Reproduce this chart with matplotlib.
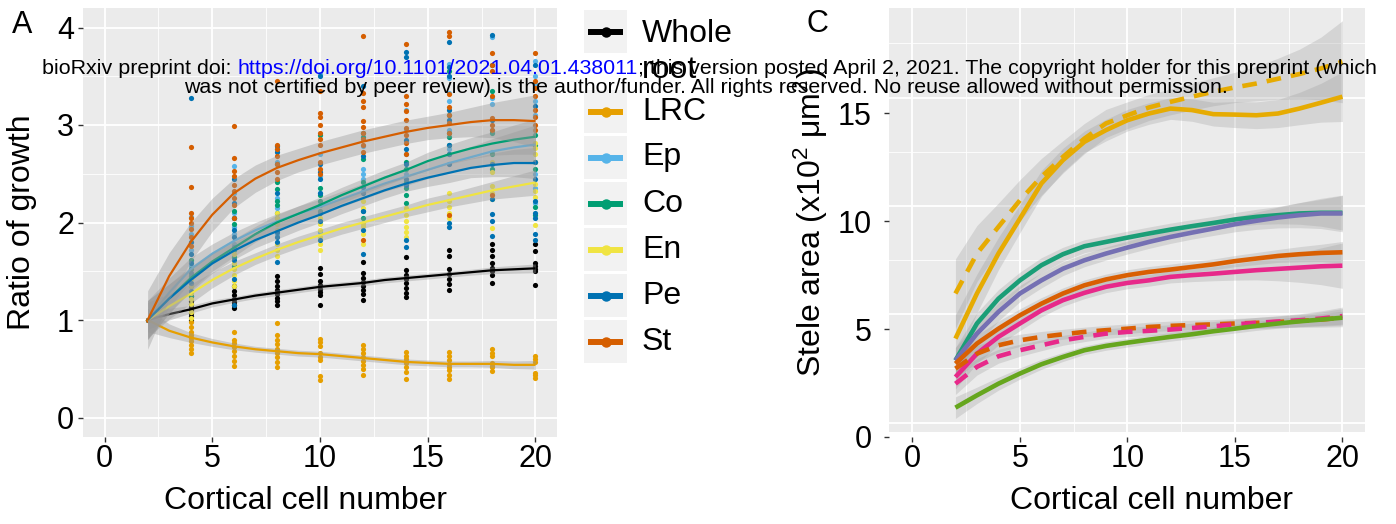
import numpy as np
import matplotlib
matplotlib.use("Agg")
import matplotlib.pyplot as plt
from matplotlib.patches import Rectangle
from matplotlib.lines import Line2D
from matplotlib.ticker import MultipleLocator

plt.rcParams['font.family'] = ['Liberation Sans', 'DejaVu Sans']
plt.rcParams['mathtext.fontset'] = 'custom'
plt.rcParams['mathtext.rm'] = 'Liberation Sans'
plt.rcParams['mathtext.it'] = 'Liberation Sans:italic'

# ---------------- Panel A data: ratio of growth ----------------
cell_x = list(range(2, 21))            # x for the smoothed curves
pt_x = [4, 6, 8, 10, 12, 14, 16, 18, 20]  # x for the measured points

tissues = ['Whole\nroot', 'LRC', 'Ep', 'Co', 'En', 'Pe', 'St']
tissue_colors = ['#000000', '#E69F00', '#56B4E9', '#009E73', '#F0E442', '#0072B2', '#D55E00']

whole_fit = [1.0, 1.06, 1.11, 1.17, 1.21, 1.25, 1.28, 1.31, 1.34, 1.36, 1.38, 1.41, 1.43, 1.45, 1.47, 1.49, 1.51, 1.52, 1.53]
lrc_fit = [1.0, 0.89, 0.82, 0.77, 0.73, 0.70, 0.68, 0.66, 0.65, 0.63, 0.61, 0.59, 0.57, 0.56, 0.55, 0.55, 0.55, 0.54, 0.54]
ep_fit = [1.0, 1.28, 1.52, 1.68, 1.81, 1.92, 2.01, 2.09, 2.16, 2.24, 2.32, 2.40, 2.47, 2.54, 2.61, 2.67, 2.73, 2.77, 2.80]
co_fit = [1.0, 1.22, 1.43, 1.60, 1.74, 1.88, 2.00, 2.09, 2.18, 2.28, 2.37, 2.46, 2.54, 2.63, 2.70, 2.76, 2.81, 2.85, 2.88]
en_fit = [1.0, 1.14, 1.27, 1.41, 1.53, 1.63, 1.72, 1.80, 1.87, 1.94, 2.00, 2.06, 2.12, 2.18, 2.23, 2.28, 2.33, 2.37, 2.41]
pe_fit = [1.0, 1.22, 1.41, 1.58, 1.71, 1.82, 1.91, 2.00, 2.08, 2.17, 2.25, 2.33, 2.40, 2.46, 2.51, 2.56, 2.59, 2.61, 2.61]
st_fit = [1.0, 1.45, 1.80, 2.08, 2.30, 2.45, 2.56, 2.64, 2.71, 2.77, 2.83, 2.88, 2.93, 2.97, 3.00, 3.03, 3.05, 3.05, 3.04]

whole_se = [0.10, 0.06, 0.04, 0.035, 0.03, 0.03, 0.03, 0.03, 0.03, 0.03, 0.03, 0.03, 0.03, 0.03, 0.03, 0.03, 0.035, 0.04, 0.045]
lrc_se = [0.12, 0.07, 0.05, 0.04, 0.035, 0.03, 0.03, 0.03, 0.03, 0.03, 0.03, 0.03, 0.03, 0.03, 0.03, 0.03, 0.035, 0.04, 0.045]
ep_se = [0.20, 0.15, 0.12, 0.10, 0.09, 0.08, 0.08, 0.08, 0.08, 0.08, 0.08, 0.08, 0.09, 0.09, 0.10, 0.11, 0.13, 0.16, 0.20]
co_se = [0.20, 0.15, 0.12, 0.10, 0.09, 0.08, 0.08, 0.08, 0.08, 0.08, 0.08, 0.08, 0.08, 0.09, 0.10, 0.11, 0.12, 0.15, 0.18]
en_se = [0.18, 0.13, 0.10, 0.08, 0.07, 0.06, 0.06, 0.06, 0.06, 0.06, 0.06, 0.06, 0.06, 0.07, 0.07, 0.08, 0.09, 0.11, 0.13]
pe_se = [0.20, 0.15, 0.12, 0.10, 0.09, 0.08, 0.08, 0.08, 0.08, 0.08, 0.08, 0.08, 0.08, 0.09, 0.10, 0.10, 0.12, 0.14, 0.16]
st_se = [0.30, 0.24, 0.20, 0.17, 0.15, 0.14, 0.13, 0.12, 0.12, 0.12, 0.12, 0.12, 0.12, 0.12, 0.13, 0.15, 0.18, 0.22, 0.27]

whole_pts = [[1.25, 1.20, 1.16, 1.13, 1.10, 1.07, 1.04, 1.00],
             [1.35, 1.30, 1.26, 1.22, 1.18, 1.15, 1.12],
             [1.45, 1.40, 1.35, 1.31, 1.27, 1.23, 1.19, 1.15],
             [1.53, 1.47, 1.40, 1.36, 1.32, 1.29, 1.26, 1.15],
             [1.60, 1.48, 1.43, 1.39, 1.35, 1.31, 1.27, 1.21],
             [1.65, 1.51, 1.46, 1.42, 1.38, 1.33, 1.28, 1.24],
             [1.72, 1.66, 1.52, 1.47, 1.42, 1.37, 1.31],
             [1.78, 1.72, 1.66, 1.58, 1.53, 1.50, 1.46, 1.38],
             [1.78, 1.71, 1.58, 1.55, 1.52, 1.50, 1.36]]
lrc_pts = [[0.98, 0.93, 0.88, 0.85, 0.82, 0.78, 0.74, 0.70, 0.66],
           [0.88, 0.80, 0.76, 0.72, 0.68, 0.63, 0.58, 0.53],
           [0.97, 0.85, 0.80, 0.75, 0.70, 0.66, 0.62, 0.57, 0.52],
           [0.81, 0.77, 0.73, 0.66, 0.62, 0.59, 0.43, 0.38],
           [0.74, 0.70, 0.66, 0.62, 0.58, 0.54, 0.50, 0.44],
           [0.67, 0.63, 0.60, 0.56, 0.52, 0.47, 0.40],
           [0.67, 0.63, 0.59, 0.55, 0.52, 0.49, 0.44, 0.40],
           [0.70, 0.66, 0.63, 0.56, 0.53, 0.52, 0.48],
           [0.63, 0.60, 0.57, 0.46, 0.44, 0.41]]
ep_pts = [[2.06, 1.96, 1.88, 1.72, 1.55, 1.45],
          [2.58, 2.30, 2.10, 1.95, 1.88, 1.78],
          [2.75, 2.62, 2.25, 2.15, 2.05, 1.88],
          [3.52, 2.70, 2.48, 2.30, 2.00, 1.90],
          [2.78, 2.55, 2.50, 2.45, 2.32],
          [3.15, 2.95, 2.70, 2.50, 2.40],
          [3.63, 3.48, 3.33, 3.25, 2.95, 2.75],
          [3.90, 3.28, 3.22, 2.95, 2.72],
          [3.66, 3.50, 3.42, 3.25, 3.10, 2.50, 2.35, 2.20]]
co_pts = [[1.62, 1.52, 1.45, 1.35, 1.25],
          [2.12, 2.05, 1.98, 1.72, 1.65, 1.55],
          [2.60, 2.42, 2.34, 2.22, 2.18, 2.10],
          [2.90, 2.35, 2.28, 2.22, 2.18, 2.12],
          [2.92, 2.88, 2.65, 2.42, 2.12, 2.05],
          [2.62, 2.55, 2.42, 2.35, 2.28, 2.20],
          [3.55, 3.10, 2.92, 2.88, 2.80, 2.70],
          [3.35, 2.92, 2.70, 2.55],
          [2.90, 2.80, 2.62, 2.55, 2.16, 2.08]]
en_pts = [[1.42, 1.35, 1.28, 1.22, 1.16, 1.08, 1.02],
          [1.68, 1.58, 1.52, 1.46, 1.40, 1.35],
          [2.10, 2.05, 1.98, 1.92, 1.78, 1.72, 1.66],
          [2.05, 1.98, 1.92, 1.85, 1.78, 1.72],
          [2.22, 2.15, 2.00, 1.96, 1.88, 1.78],
          [2.15, 2.08, 2.02, 1.95, 1.90, 1.85],
          [2.30, 2.22, 2.16, 2.10, 2.05],
          [2.62, 2.52, 2.37, 2.30, 2.24, 1.94],
          [2.82, 2.76, 2.70, 2.62, 2.40, 2.32, 2.26, 1.97]]
pe_pts = [[3.28, 1.80, 1.68, 1.58, 1.48, 1.38, 1.30],
          [2.45, 2.20, 2.05, 1.92, 1.85, 1.75, 1.62, 1.42, 1.15],
          [2.78, 2.72, 2.30, 1.90, 1.85, 1.80, 1.60],
          [3.50, 2.60, 2.52, 2.45, 2.30, 2.10, 2.02, 1.82],
          [3.40, 2.68, 2.36, 2.30, 2.12, 1.92, 1.68],
          [3.75, 3.70, 2.85, 2.75, 2.60, 2.45, 2.38, 1.82, 1.75],
          [3.85, 3.60, 3.50, 3.15, 3.05, 2.80, 2.70, 2.60, 2.00, 1.95],
          [3.92, 3.62, 3.05, 2.60, 2.24, 2.09, 2.02, 1.86],
          [3.62, 3.20, 2.62, 2.45, 2.22, 2.10, 2.05, 1.88, 1.82]]
st_pts = [[2.77, 2.36, 2.10, 2.05, 2.00, 1.93, 1.85, 1.76],
          [2.99, 2.66, 2.53, 2.48, 2.38, 2.32, 2.25, 2.18, 2.05],
          [3.45, 2.80, 2.75, 2.68, 2.60, 2.52, 2.45],
          [3.35, 3.12, 3.08, 3.00, 2.92, 2.86, 2.80, 2.62, 2.55, 2.50],
          [3.91, 3.33, 3.25, 3.18, 3.04, 2.98, 2.92, 2.86, 2.80, 2.72, 1.82],
          [3.83, 3.30, 3.22, 3.14, 3.05, 2.97, 2.90, 2.82, 2.70],
          [3.95, 3.91, 3.32, 3.18, 3.10, 3.02, 2.92, 2.08],
          [3.74, 3.62, 3.55, 3.30, 3.07, 3.00, 2.95, 2.28],
          [3.74, 3.45, 3.38, 3.30, 3.15, 3.08, 3.00, 2.95]]

fits_a = [whole_fit, lrc_fit, ep_fit, co_fit, en_fit, pe_fit, st_fit]
ses_a = [whole_se, lrc_se, ep_se, co_se, en_se, pe_se, st_se]
pts_a = [whole_pts, lrc_pts, ep_pts, co_pts, en_pts, pe_pts, st_pts]

# ---------------- Panel C data: stele area (x10^2 um^2) ----------------
area_x = list(range(2, 21))
yel_dash = [6.65, 8.5, 9.74, 10.97, 12.06, 12.98, 13.83, 14.53, 14.91, 15.27, 15.53, 15.77, 16.0, 16.2, 16.38, 16.6, 16.82, 17.08, 17.39]
yel_solid = [4.56, 6.65, 8.5, 10.12, 11.75, 12.83, 13.68, 14.22, 14.68, 14.99, 15.22, 15.15, 14.96, 14.94, 14.91, 14.99, 15.22, 15.49, 15.77]
teal_solid = [3.55, 5.26, 6.41, 7.26, 7.96, 8.47, 8.84, 9.04, 9.24, 9.43, 9.61, 9.77, 9.92, 10.08, 10.2, 10.28, 10.36, 10.39, 10.39]
purple_solid = [3.55, 4.79, 5.8, 6.65, 7.26, 7.8, 8.19, 8.5, 8.78, 9.04, 9.27, 9.47, 9.66, 9.86, 10.02, 10.17, 10.28, 10.36, 10.36]
orange_solid = [3.4, 4.33, 5.02, 5.64, 6.18, 6.65, 7.03, 7.3, 7.5, 7.65, 7.76, 7.88, 8.0, 8.15, 8.27, 8.39, 8.47, 8.53, 8.56]
pink_solid = [2.78, 3.86, 4.64, 5.26, 5.87, 6.34, 6.68, 6.96, 7.14, 7.26, 7.42, 7.5, 7.57, 7.65, 7.73, 7.79, 7.85, 7.91, 7.94]
orange_dash = [3.17, 3.86, 4.25, 4.48, 4.64, 4.76, 4.87, 4.95, 5.02, 5.1, 5.15, 5.19, 5.22, 5.26, 5.29, 5.33, 5.38, 5.44, 5.53]
pink_dash = [2.47, 3.25, 3.74, 4.02, 4.25, 4.48, 4.64, 4.79, 4.87, 4.92, 4.98, 5.05, 5.13, 5.22, 5.29, 5.35, 5.41, 5.49, 5.6]
green_solid = [1.36, 1.93, 2.47, 2.94, 3.37, 3.71, 4.02, 4.22, 4.37, 4.51, 4.64, 4.76, 4.9, 5.02, 5.15, 5.26, 5.36, 5.44, 5.53]

yel_dash_se = [1.6, 1.3, 1.1, 0.95, 0.85, 0.75, 0.7, 0.65, 0.62, 0.6, 0.6, 0.62, 0.65, 0.7, 0.8, 0.95, 1.15, 1.45, 1.9]
yel_solid_se = [1.1, 0.9, 0.75, 0.65, 0.6, 0.55, 0.5, 0.5, 0.5, 0.5, 0.5, 0.52, 0.55, 0.6, 0.62, 0.65, 0.75, 0.9, 1.15]
teal_solid_se = [0.6, 0.5, 0.42, 0.38, 0.35, 0.32, 0.3, 0.3, 0.3, 0.3, 0.3, 0.3, 0.3, 0.32, 0.35, 0.4, 0.5, 0.62, 0.8]
purple_solid_se = [0.6, 0.5, 0.42, 0.38, 0.35, 0.32, 0.3, 0.3, 0.3, 0.3, 0.3, 0.3, 0.32, 0.35, 0.4, 0.48, 0.58, 0.7, 0.85]
orange_solid_se = [0.5, 0.4, 0.35, 0.3, 0.28, 0.26, 0.25, 0.25, 0.25, 0.25, 0.25, 0.25, 0.25, 0.26, 0.28, 0.3, 0.35, 0.4, 0.5]
pink_solid_se = [0.55, 0.45, 0.38, 0.33, 0.3, 0.28, 0.27, 0.27, 0.27, 0.27, 0.28, 0.3, 0.33, 0.38, 0.45, 0.55, 0.68, 0.85, 1.05]
orange_dash_se = [0.5, 0.38, 0.32, 0.28, 0.25, 0.23, 0.22, 0.22, 0.22, 0.22, 0.22, 0.22, 0.22, 0.23, 0.25, 0.27, 0.3, 0.35, 0.42]
pink_dash_se = [0.5, 0.38, 0.32, 0.28, 0.25, 0.23, 0.22, 0.22, 0.22, 0.22, 0.22, 0.22, 0.22, 0.23, 0.25, 0.27, 0.3, 0.35, 0.42]
green_solid_se = [0.5, 0.38, 0.3, 0.26, 0.23, 0.21, 0.2, 0.2, 0.2, 0.2, 0.2, 0.2, 0.2, 0.2, 0.21, 0.22, 0.24, 0.27, 0.3]

curves_c = [
    (yel_dash, yel_dash_se, '#E6AB02', 'dashed'),
    (yel_solid, yel_solid_se, '#E6AB02', 'solid'),
    (teal_solid, teal_solid_se, '#1B9E77', 'solid'),
    (purple_solid, purple_solid_se, '#7570B3', 'solid'),
    (orange_solid, orange_solid_se, '#D95F02', 'solid'),
    (pink_solid, pink_solid_se, '#E7298A', 'solid'),
    (orange_dash, orange_dash_se, '#D95F02', 'dashed'),
    (pink_dash, pink_dash_se, '#E7298A', 'dashed'),
    (green_solid, green_solid_se, '#66A61E', 'solid'),
]

# ---------------- figure & helpers ----------------
W, H = 1396, 524
fig = plt.figure(figsize=(W / 100, H / 100), dpi=100)


def rect_px(x0, y0, x1, y1):
    """Pixel box (origin top-left) to a figure-fraction rectangle."""
    return [x0 / W, 1 - y1 / H, (x1 - x0) / W, (y1 - y0) / H]


# overlay axes in pixel units for legend, labels and header text
ov = fig.add_axes([0, 0, 1, 1])
ov.set_xlim(0, W)
ov.set_ylim(H, 0)
ov.axis('off')
ov.set_zorder(10)

PANEL_BG = '#EBEBEB'
RIBBON = '#999999'


def style_grid(ax, ymajor, yminor, xmajor=5, xminor=2.5):
    ax.set_facecolor(PANEL_BG)
    for s in ax.spines.values():
        s.set_visible(False)
    ax.xaxis.set_major_locator(MultipleLocator(xmajor))
    ax.xaxis.set_minor_locator(MultipleLocator(xminor))
    ax.yaxis.set_major_locator(MultipleLocator(ymajor))
    ax.yaxis.set_minor_locator(MultipleLocator(yminor))
    ax.grid(which='major', color='white', lw=1.3)
    ax.grid(which='minor', color='white', lw=0.6)
    ax.set_axisbelow(True)


def style_ticks(ax, ypad):
    ax.tick_params(which='minor', length=0)
    ax.tick_params(axis='both', which='major', length=3.5, width=1.0, color='#333333',
                   labelsize=22, labelcolor='black')
    ax.tick_params(axis='x', pad=1.5)
    ax.tick_params(axis='y', pad=ypad)


# ---------------- Panel A ----------------
axA = fig.add_axes(rect_px(83, 8, 557, 437))
style_grid(axA, 1, 0.5)
style_ticks(axA, 3)
axA.set_xlim(-1, 21)
axA.set_ylim(-0.2, 4.2)

for pts, col in zip(pts_a, tissue_colors):
    xs = [2.0]
    ys = [1.0]
    for xv, col_vals in zip(pt_x, pts):
        xs += [xv] * len(col_vals)
        ys += col_vals
    axA.scatter(xs, ys, s=14, color=col, lw=0, zorder=2)

for fit, se, col in zip(fits_a, ses_a, tissue_colors):
    f = np.array(fit)
    e = np.array(se)
    axA.fill_between(cell_x, f - e, f + e, color=RIBBON, alpha=0.4, lw=0, zorder=3)
    axA.plot(cell_x, f, color=col, lw=1.6, zorder=3, solid_capstyle='butt')

axA.set_xlabel('Cortical cell number', fontsize=23)
axA.xaxis.set_label_coords(305, 486, transform=ov.transData)
axA.set_ylabel('Ratio of growth', fontsize=23)
axA.yaxis.set_label_coords(37, 222.5, transform=ov.transData)

# ---------------- Panel C ----------------
C_XLIM = (-1.09, 21.05)
axCbg = fig.add_axes(rect_px(889, 8, 1365, 432))
style_grid(axCbg, 5, 2.5)
axCbg.set_xlim(*C_XLIM)
axCbg.set_ylim(-0.43, 19.13)
axCbg.tick_params(which='both', length=0, labelleft=False, labelbottom=False)

axC = fig.add_axes(rect_px(889, 8, 1365, 437))
axC.patch.set_visible(False)
for s in axC.spines.values():
    s.set_visible(False)
axC.xaxis.set_major_locator(MultipleLocator(5))
axC.yaxis.set_major_locator(MultipleLocator(5))
style_ticks(axC, 9)
axC.set_xlim(*C_XLIM)
axC.set_ylim(0, 19.88)

for vals, se, col, ls in curves_c:
    v = np.array(vals)
    e = np.array(se)
    axC.fill_between(area_x, v - e, v + e, color=RIBBON, alpha=0.28, lw=0, zorder=2)
    if ls == 'dashed':
        axC.plot(area_x, v, color=col, lw=3.3, dashes=(3.2, 2.2), zorder=3, dash_capstyle='butt')
    else:
        axC.plot(area_x, v, color=col, lw=3.3, zorder=3, solid_capstyle='butt')

axC.set_xlabel('Cortical cell number', fontsize=23)
axC.xaxis.set_label_coords(1152, 486, transform=ov.transData)
axC.set_ylabel('Stele area (x10$^\\mathregular{2}$ $\\mathregular{\\mu}$m$^\\mathregular{2}$)', fontsize=23)
axC.yaxis.set_label_coords(830, 222.5, transform=ov.transData)

# ---------------- panel letters ----------------
ov.text(12, 33, 'A', fontsize=22, va='baseline', ha='left')
ov.text(807, 32, 'C', fontsize=22, va='baseline', ha='left')

# ---------------- legend for panel A ----------------
key_left, key_size = 584, 43
key_tops = [10] + [90 + 46 * i for i in range(len(tissues) - 1)]
for name, col, top in zip(tissues, tissue_colors, key_tops):
    ov.add_patch(Rectangle((key_left, top), key_size, key_size, fc='#F2F2F2', ec='none'))
    cy = top + key_size / 2
    ov.add_line(Line2D([key_left + 4, key_left + key_size - 4], [cy, cy], color=col, lw=4.3,
                       solid_capstyle='butt'))
    ov.plot([key_left + key_size / 2], [cy], 'o', color=col, ms=7.5, mec='none')
    if '\n' in name:
        # two-line label: first line level with the key, second line hanging below
        ov.text(642, cy + 46.5, name, fontsize=23, va='baseline', ha='left', linespacing=1.27)
    else:
        ov.text(642, cy, name, fontsize=23, va='center', ha='left')

# ---------------- preprint header ----------------
hdr_a = 'bioRxiv preprint doi:'
hdr_link = 'https://doi.org/10.1101/2021.04.01.438011'
hdr_b = '; this version posted April 2, 2021. The copyright holder for this preprint (which'
hdr_2 = 'was not certified by peer review) is the author/funder. All rights reserved. No reuse allowed without permission.'
HDR_FS = 15.4

fig.canvas.draw()
renderer = fig.canvas.get_renderer()


def width_of(s):
    t = ov.text(0, 0, s, fontsize=HDR_FS)
    w = t.get_window_extent(renderer).width
    t.remove()
    return w


space_w = width_of('a a') - width_of('aa')
wa, wl, wb = width_of(hdr_a), width_of(hdr_link), width_of(hdr_b)
total = wa + space_w + wl + wb
x0 = 709.5 - total / 2
ov.text(x0, 74, hdr_a, fontsize=HDR_FS, va='baseline', ha='left', color='black')
ov.text(x0 + wa + space_w, 74, hdr_link, fontsize=HDR_FS, va='baseline', ha='left', color='#0000FF')
ov.text(x0 + wa + space_w + wl, 74, hdr_b, fontsize=HDR_FS, va='baseline', ha='left', color='black')
ov.text(706, 93.3, hdr_2, fontsize=HDR_FS, va='baseline', ha='center', color='black')

fig.savefig('out.png', dpi=100, facecolor='white')
